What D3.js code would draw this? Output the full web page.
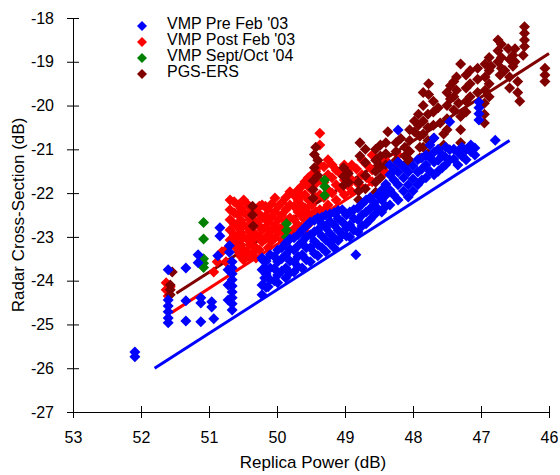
<!DOCTYPE html>
<html lang="en">
<head>
<meta charset="utf-8">
<title>Radar Cross-Section vs Replica Power</title>
<style>
    body { margin: 0; background: #fff; }
    svg text { font-family: "Liberation Sans", Arial, sans-serif; fill: #000; }
</style>
</head>
<body>
<svg id="chart" width="560" height="475"></svg>
<script src="https://cdn.jsdelivr.net/npm/d3@7"></script>
<script>
// series names (legend order)
var seriesNames = ["VMP Pre Feb '03", "VMP Post Feb '03", "VMP Sept/Oct '04", "PGS-ERS"];
var seriesColors = ["#0000ff", "#ff0000", "#008000", "#800000"];

var xTicks = [53, 52, 51, 50, 49, 48, 47, 46];
var yTicks = [-18, -19, -20, -21, -22, -23, -24, -25, -26, -27];

// [replica power dB, radar cross-section dB]
var preFeb03 = [
    [52.09,-25.63],[52.09,-25.74],
    [51.60,-23.75],[51.60,-24.44],[51.60,-24.58],[51.60,-24.71],[51.60,-24.85],[51.60,-24.96],
    [51.34,-23.71],[51.34,-24.46],[51.34,-24.92],
    [51.16,-23.41],[51.16,-23.59],
    [51.12,-24.39],[51.12,-24.51],[51.12,-24.94],
    [50.96,-24.48],[50.96,-24.60],[50.93,-24.87],
    [50.87,-23.43],[50.84,-22.79],[50.84,-22.98],
    [50.70,-23.20],[50.70,-23.35],
    [50.66,-23.57],[50.66,-23.71],[50.66,-23.84],[50.66,-23.98],[50.66,-24.12],
    [50.66,-24.26],[50.66,-24.39],[50.66,-24.53],[50.66,-24.67],
    [50.72,-23.75],[50.72,-24.10],[50.72,-24.44],
    [50.21,-23.53],[50.18,-23.71],[50.18,-23.94],[50.13,-24.14],
    [50.22,-23.48],[50.22,-23.75],[50.22,-24.10],[50.22,-24.32],
    [50.16,-23.55],[50.16,-23.85],[50.16,-24.15],
    [50.10,-23.41],[50.10,-23.71],[50.10,-23.98],
    [50.04,-23.45],[50.04,-23.72],[50.04,-24.00],
    [49.99,-23.30],[49.99,-23.57],[49.99,-23.87],[49.99,-24.05],
    [49.93,-23.25],[49.93,-23.50],[49.93,-23.78],
    [49.87,-23.14],[49.87,-23.41],[49.87,-23.71],[49.87,-23.94],
    [49.81,-23.05],[49.81,-23.28],[49.81,-23.55],[49.81,-23.82],
    [49.75,-23.02],[49.75,-23.30],[49.75,-23.57],[49.75,-23.80],
    [49.69,-22.95],[49.69,-23.20],[49.69,-23.45],[49.69,-23.68],
    [49.63,-22.84],[49.63,-23.11],[49.63,-23.41],[49.63,-23.71],
    [49.57,-22.75],[49.57,-23.00],[49.57,-23.25],[49.57,-23.52],
    [49.51,-22.66],[49.51,-22.95],[49.51,-23.25],[49.51,-23.57],
    [49.45,-22.62],[49.45,-22.88],[49.45,-23.10],[49.45,-23.38],
    [49.40,-22.57],[49.40,-22.84],[49.40,-23.18],[49.40,-23.43],
    [49.34,-22.55],[49.34,-22.70],[49.34,-22.98],[49.34,-23.25],
    [49.28,-22.50],[49.28,-22.79],[49.28,-23.07],[49.28,-23.34],
    [49.22,-22.48],[49.22,-22.65],[49.22,-22.92],[49.22,-23.15],
    [49.16,-22.45],[49.16,-22.73],[49.16,-23.02],[49.16,-23.25],
    [49.10,-22.40],[49.10,-22.58],[49.10,-22.85],[49.10,-23.08],
    [49.04,-22.38],[49.04,-22.66],[49.04,-22.95],
    [48.98,-22.50],[48.98,-22.80],[48.98,-22.98],
    [48.93,-22.43],[48.93,-22.73],[48.93,-23.00],
    [48.87,-22.38],[48.87,-22.58],[48.87,-22.85],
    [48.81,-22.34],[48.81,-22.61],[48.81,-22.89],
    [48.75,-22.25],[48.75,-22.50],[48.75,-22.75],
    [48.69,-22.16],[48.69,-22.43],[48.69,-22.70],
    [48.63,-22.10],[48.63,-22.35],[48.63,-22.60],
    [48.57,-22.22],[48.57,-22.50],
    [48.52,-22.05],[48.52,-22.35],
    [48.46,-21.93],[48.46,-22.16],[48.46,-22.43],
    [48.40,-21.80],[48.40,-22.05],[48.40,-22.30],
    [48.34,-21.36],[48.34,-21.58],[48.34,-21.93],[48.34,-22.27],
    [48.28,-21.45],[48.28,-21.70],[48.28,-22.05],
    [48.22,-20.56],[48.22,-21.29],[48.22,-21.52],[48.22,-21.81],[48.22,-22.16],
    [48.14,-21.40],[48.14,-21.65],[48.14,-21.95],
    [48.07,-21.52],[48.07,-21.81],[48.07,-22.09],
    [48.00,-21.38],[48.00,-21.68],[48.00,-21.95],
    [47.93,-21.24],[47.93,-21.52],[47.93,-21.81],
    [47.87,-21.20],[47.87,-21.45],[47.87,-21.70],
    [47.81,-21.13],[47.81,-21.36],[47.81,-21.65],
    [47.75,-20.90],[47.75,-21.20],[47.75,-21.50],
    [47.69,-20.74],[47.69,-21.06],[47.69,-21.29],[47.69,-21.58],
    [47.63,-21.00],[47.63,-21.25],[47.63,-21.50],
    [47.57,-21.13],[47.57,-21.42],
    [47.52,-20.95],[47.52,-21.18],[47.52,-21.35],
    [47.46,-20.37],[47.46,-21.01],[47.46,-21.24],
    [47.40,-21.00],[47.40,-21.22],
    [47.34,-21.06],[47.34,-21.36],
    [47.28,-20.95],[47.28,-21.15],
    [47.22,-21.01],[47.22,-21.24],
    [47.15,-20.90],[47.15,-21.05],
    [47.09,-20.97],[47.09,-21.13],
    [47.03,-19.92],[47.03,-20.05],[47.03,-20.19],[47.03,-20.33],
    [46.79,-20.79],
    [48.84,-23.41]
];

var postFeb03 = [
    [51.63,-24.05],[51.63,-24.21],[51.57,-24.14],[51.60,-24.35],
    [50.93,-23.80],[50.88,-23.57],[50.81,-23.34],[50.75,-23.57],[50.72,-23.25],
    [50.69,-22.16],[50.69,-22.38],[50.69,-22.61],[50.69,-22.84],[50.69,-23.07],
    [50.63,-22.20],[50.63,-22.45],[50.63,-22.70],[50.63,-22.95],[50.63,-23.20],
    [50.57,-22.27],[50.57,-22.50],[50.57,-22.79],[50.57,-23.07],[50.57,-23.34],
    [50.53,-22.35],[50.53,-22.62],[50.53,-22.90],[50.53,-23.18],[50.53,-23.45],
    [50.49,-22.16],[50.49,-22.43],[50.49,-22.73],[50.49,-23.00],[50.49,-23.30],[50.49,-23.53],
    [50.44,-22.25],[50.44,-22.50],[50.44,-22.78],[50.44,-23.05],[50.44,-23.35],
    [50.40,-22.32],[50.40,-22.61],[50.40,-22.89],[50.40,-23.18],[50.40,-23.46],
    [50.35,-22.45],[50.35,-22.78],[50.35,-23.05],[50.35,-23.35],
    [50.31,-22.38],[50.31,-22.66],[50.31,-22.95],[50.31,-23.25],[50.31,-23.48],
    [50.26,-22.30],[50.26,-22.48],[50.26,-22.75],[50.26,-23.00],[50.26,-23.30],
    [50.22,-22.27],[50.22,-22.57],[50.22,-22.84],[50.22,-23.11],
    [50.17,-22.30],[50.17,-22.52],[50.17,-22.78],[50.17,-23.05],
    [50.13,-22.38],[50.13,-22.66],[50.13,-22.95],[50.13,-23.25],
    [50.08,-22.25],[50.08,-22.55],[50.08,-22.85],[50.08,-23.10],
    [50.03,-22.11],[50.03,-22.43],[50.03,-22.73],[50.03,-23.02],
    [49.98,-22.30],[49.98,-22.60],[49.98,-22.90],
    [49.93,-22.22],[49.93,-22.50],[49.93,-22.79],[49.93,-23.07],
    [49.87,-22.10],[49.87,-22.38],[49.87,-22.65],[49.87,-22.95],
    [49.81,-21.97],[49.81,-22.27],[49.81,-22.57],[49.81,-22.89],
    [49.75,-22.05],[49.75,-22.30],[49.75,-22.60],[49.75,-22.82],
    [49.69,-21.93],[49.69,-22.16],[49.69,-22.43],[49.69,-22.73],
    [49.64,-21.85],[49.64,-22.05],[49.64,-22.28],[49.64,-22.52],[49.64,-22.78],
    [49.59,-21.74],[49.59,-22.04],[49.59,-22.34],[49.59,-22.61],[49.59,-22.89],
    [49.54,-21.65],[49.54,-21.85],[49.54,-22.15],[49.54,-22.45],[49.54,-22.72],
    [49.49,-21.58],[49.49,-21.93],[49.49,-22.27],[49.49,-22.57],
    [49.43,-21.50],[49.43,-21.78],[49.43,-22.10],[49.43,-22.42],
    [49.37,-20.63],[49.37,-20.90],[49.37,-21.36],[49.37,-21.70],[49.37,-22.04],[49.37,-22.38],
    [49.31,-21.40],[49.31,-21.75],[49.31,-22.10],[49.31,-22.40],
    [49.25,-21.24],[49.25,-21.58],[49.25,-21.93],[49.25,-22.27],
    [49.19,-21.35],[49.19,-21.65],[49.19,-22.00],
    [49.13,-21.47],[49.13,-21.81],[49.13,-22.16],
    [49.07,-21.55],[49.07,-21.90],
    [49.01,-21.36],[49.01,-21.70],[49.01,-22.04],
    [48.96,-21.50],[48.96,-21.82],
    [48.90,-21.36],[48.90,-21.70],[48.90,-21.97],
    [48.83,-21.45],[48.83,-21.75],
    [48.75,-21.24],[48.75,-21.58],[48.75,-21.88],
    [48.68,-21.35],[48.68,-21.65],
    [48.60,-21.13],[48.60,-21.47],[48.60,-21.74],
    [48.41,-21.24],[48.41,-21.52],
    [48.22,-21.13],[48.22,-21.29]
];

var septOct04 = [
    [51.08,-22.67],[51.08,-23.05],[51.08,-23.50],[51.08,-23.60],[51.08,-23.70],
    [49.86,-22.70],[49.86,-22.85],[49.86,-23.00],
    [49.30,-21.70],[49.30,-21.85],[49.30,-22.05]
];

var pgsErs = [
    [51.54,-23.80],[51.57,-24.10],[51.57,-24.21],[51.57,-24.32],
    [50.36,-22.30],[50.36,-22.50],[50.35,-22.75],
    [49.43,-20.95],[49.45,-21.12],[49.45,-21.42],[49.47,-21.72],[49.47,-21.92],[49.47,-22.12],
    [49.40,-21.25],[49.40,-21.60],
    [49.02,-21.42],[49.02,-21.62],[49.02,-21.82],
    [48.95,-21.55],[48.95,-21.75],
    [48.78,-20.85],[48.78,-21.15],[48.80,-21.75],[48.80,-21.95],[48.80,-22.15],
    [48.70,-21.00],[48.70,-21.30],[48.70,-21.60],[48.70,-21.90],
    [48.55,-21.00],[48.55,-21.25],[48.55,-21.50],[48.55,-21.75],[48.55,-21.98],
    [48.48,-20.90],[48.48,-21.15],[48.48,-21.40],[48.48,-21.65],
    [48.37,-20.60],[48.40,-20.85],[48.40,-21.10],[48.40,-21.35],
    [48.25,-20.85],[48.25,-21.05],[48.25,-21.25],
    [48.18,-20.75],[48.12,-20.95],[48.12,-21.15],[48.12,-21.35],
    [48.05,-20.55],[48.05,-20.80],[48.05,-21.05],[48.05,-21.25],
    [47.98,-20.35],[47.98,-20.60],
    [47.92,-20.20],[47.92,-20.45],[47.90,-20.70],[47.90,-20.95],[47.90,-21.20],
    [47.85,-19.70],[47.85,-20.00],[47.85,-20.35],[47.85,-20.65],[47.85,-20.95],
    [47.77,-19.50],[47.77,-19.75],[47.78,-20.20],[47.78,-20.50],[47.78,-20.80],[47.78,-21.10],
    [47.70,-19.90],[47.70,-20.15],[47.70,-20.45],[47.70,-20.75],
    [47.63,-20.05],[47.60,-20.40],[47.55,-20.65],[47.55,-20.90],
    [47.50,-19.70],[47.50,-20.00],[47.50,-20.30],[47.50,-20.55],
    [47.45,-19.55],[47.45,-19.85],
    [47.40,-19.45],[47.40,-19.80],[47.40,-20.10],
    [47.36,-19.35],[47.36,-19.65],[47.33,-19.95],[47.30,-20.25],[47.30,-20.55],[47.30,-20.85],
    [47.30,-19.05],
    [47.22,-19.30],[47.22,-19.60],[47.22,-19.90],[47.22,-20.15],
    [47.16,-19.20],[47.16,-19.50],[47.16,-19.80],
    [47.05,-19.15],[47.05,-19.40],[47.05,-19.70],
    [46.94,-19.05],[46.94,-19.35],[46.94,-19.65],[46.95,-19.95],[46.95,-20.20],[46.95,-20.40],
    [46.88,-18.90],[46.88,-19.20],[46.88,-19.50],[46.88,-19.80],
    [46.85,-19.10],
    [46.75,-18.50],[46.75,-18.75],[46.75,-19.00],[46.72,-19.30],
    [46.70,-18.60],[46.70,-18.90],[46.70,-19.15],
    [46.60,-18.70],[46.65,-19.20],
    [46.58,-18.95],[46.58,-19.35],[46.58,-19.60],
    [46.53,-18.85],[46.53,-19.10],[46.46,-19.45],[46.46,-19.70],[46.43,-19.90],
    [46.50,-18.70],[46.50,-19.00],
    [46.36,-18.20],[46.36,-18.35],[46.36,-18.50],[46.36,-18.65],[46.38,-18.85],
    [46.06,-19.15],[46.06,-19.30],[46.06,-19.45]
];

// fitted lines, end points
var preFeb03Fit = [[51.80,-26.00],[46.58,-20.80]];
var postFeb03Fit = [[51.55,-24.73],[48.20,-21.36]];
var pgsErsFit = [[51.48,-24.29],[46.00,-18.81]];

var svg = d3.select("#chart");
var margin = {left: 73, right: 11, top: 18, bottom: 63};
var w = 560, h = 475;

var x = d3.scaleLinear().domain([53, 46]).range([margin.left, w - margin.right]);
var y = d3.scaleLinear().domain([-27, -18]).range([h - margin.bottom, margin.top]);

// axes
var xAxis = d3.axisBottom(x).tickValues(xTicks).tickSizeInner(6).tickSizeOuter(0).tickPadding(14)
    .tickFormat(d3.format("d"));
var yAxis = d3.axisLeft(y).tickValues(yTicks).tickSizeInner(6).tickSizeOuter(0).tickPadding(13)
    .tickFormat(function(d) { return d3.format("d")(d).replace("\u2212", "-"); });

var gx = svg.append("g").attr("transform", "translate(0," + y(-27) + ")").call(xAxis);
var gy = svg.append("g").attr("transform", "translate(" + x(53) + ",0)").call(yAxis);

[gx, gy].forEach(function(g) {
    g.select(".domain").attr("stroke", "#000").attr("stroke-width", 1);
    g.selectAll(".tick line").attr("stroke", "#000");
    g.selectAll(".tick text").attr("font-size", "16px").attr("font-family", "Liberation Sans, Arial, sans-serif");
});
// ticks cross the axis line
gx.selectAll(".tick line").attr("y1", -6).attr("y2", 6);
gy.selectAll(".tick line").attr("x1", -6).attr("x2", 6);

svg.append("text")
    .attr("x", (x(53) + x(46)) / 2 + 2)
    .attr("y", 468)
    .attr("text-anchor", "middle")
    .attr("font-size", "17px")
    .text("Replica Power (dB)");

svg.append("text")
    .attr("transform", "translate(24," + y(-22.5) + ") rotate(-90)")
    .attr("text-anchor", "middle")
    .attr("font-size", "17px")
    .text("Radar Cross-Section (dB)");

// fit lines sit under the markers
var line = d3.line()
    .x(function(d) { return x(d[0]); })
    .y(function(d) { return y(d[1]); });

[[preFeb03Fit, seriesColors[0]], [postFeb03Fit, seriesColors[1]], [pgsErsFit, seriesColors[3]]]
    .forEach(function(p) {
        svg.append("path")
            .attr("d", line(p[0]))
            .attr("fill", "none")
            .attr("stroke", p[1])
            .attr("stroke-width", 3);
    });

// diamond marker
var diamond = "M0,-5.5L5.5,0L0,5.5L-5.5,0Z";

function drawPoints(data, color) {
    svg.append("g").selectAll("path")
        .data(data)
        .enter()
        .append("path")
        .attr("d", diamond)
        .attr("fill", color)
        .attr("transform", function(d) {
            return "translate(" + x(d[0]) + "," + y(d[1]) + ")";
        });
}

drawPoints(postFeb03, seriesColors[1]);
drawPoints(pgsErs, seriesColors[3]);
drawPoints(septOct04, seriesColors[2]);
drawPoints(preFeb03, seriesColors[0]);

// legend
var legend = svg.append("g").attr("transform", "translate(142,26)");
seriesNames.forEach(function(name, i) {
    var row = legend.append("g").attr("transform", "translate(0," + (i * 16) + ")");
    row.append("path").attr("d", "M0,-5L5,0L0,5L-5,0Z").attr("fill", seriesColors[i]);
    row.append("text")
        .attr("x", 25)
        .attr("y", 3)
        .attr("font-size", "16px")
        .text(name);
});
</script>
</body>
</html>
